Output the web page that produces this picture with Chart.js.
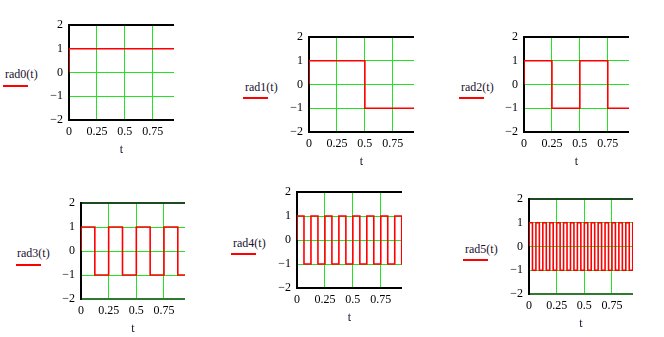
<!DOCTYPE html>
<html lang="en">
<head>
  <meta charset="UTF-8" />
  <title>Rademacher functions</title>
  <script src="https://cdn.jsdelivr.net/npm/chart.js@4.4.0/dist/chart.umd.min.js"></script>
  <style>
    * { margin: 0; padding: 0; box-sizing: border-box; }
    body {
      background: #ffffff;
      width: 664px;
      height: 337px;
      position: relative;
      overflow: hidden;
      font-family: 'Liberation Serif', 'DejaVu Serif', serif;
    }
    canvas { position: absolute; }
    .label {
      position: absolute;
      font-size: 12px;
      line-height: 14px;
      color: #1a1030;
      white-space: nowrap;
    }
    .swatch {
      position: absolute;
      width: 25px;
      height: 2px;
      background: #ff0000;
    }
  </style>
</head>
<body>
  <script>
    // ---- data ----
    const xTicks = [0, 0.25, 0.5, 0.75];
    const yTicks = [-2, -1, 0, 1, 2];
    const xMax = 0.94;

    // step breakpoints (t) and the level held from each breakpoint onward
    const rad0T = [0, 0, 0.94];
    const rad0V = [0, 1, 1];

    const rad1T = [0, 0, 0.5, 0.94];
    const rad1V = [0, 1, -1, -1];

    const rad2T = [0, 0, 0.25, 0.5, 0.75, 0.94];
    const rad2V = [0, 1, -1, 1, -1, -1];

    const rad3T = [0, 0, 0.125, 0.25, 0.375, 0.5, 0.625, 0.75, 0.875, 0.94];
    const rad3V = [0, 1, -1, 1, -1, 1, -1, 1, -1, -1];

    const rad4T = [0, 0, 0.0625, 0.125, 0.1875, 0.25, 0.3125, 0.375, 0.4375, 0.5,
                   0.5625, 0.625, 0.6875, 0.75, 0.8125, 0.875, 0.9375, 0.94];
    const rad4V = [0, 1, -1, 1, -1, 1, -1, 1, -1, 1, -1, 1, -1, 1, -1, 1, -1, -1];

    const rad5T = [0, 0, 0.03125, 0.0625, 0.09375, 0.125, 0.15625, 0.1875, 0.21875, 0.25,
                   0.28125, 0.3125, 0.34375, 0.375, 0.40625, 0.4375, 0.46875, 0.5,
                   0.53125, 0.5625, 0.59375, 0.625, 0.65625, 0.6875, 0.71875, 0.75,
                   0.78125, 0.8125, 0.84375, 0.875, 0.90625, 0.9375, 0.94];
    const rad5V = [0, 1, -1, 1, -1, 1, -1, 1, -1, 1, -1, 1, -1, 1, -1, 1, -1,
                   1, -1, 1, -1, 1, -1, 1, -1, 1, -1, 1, -1, 1, -1, 1, 1];

    // ---- layout ----
    // PAD_T must exceed the y scale's own top padding (half label + tick padding)
    const Y_W = 28, X_H = 40, PAD_T = 15, PAD_R = 4;
    const FONT = 'Liberation Serif';
    const GRID = '#22e222';

    const panels = [
      { name: 'rad0(t)', t: rad0T, v: rad0V, left: 69,  right: 174, top: 25,  bottom: 120, frame: '#000000', frameB: '#000000', tx: 5,   ty: 67,  sx: 3,   sy: 85 },
      { name: 'rad1(t)', t: rad1T, v: rad1V, left: 309, right: 414, top: 37,  bottom: 132, frame: '#000000', frameB: '#000000', tx: 245, ty: 80,  sx: 243, sy: 97 },
      { name: 'rad2(t)', t: rad2T, v: rad2V, left: 524, right: 629, top: 37,  bottom: 132, frame: '#000000', frameB: '#000000', tx: 461, ty: 80,  sx: 459, sy: 97 },
      { name: 'rad3(t)', t: rad3T, v: rad3V, left: 81,  right: 185, top: 203, bottom: 299, frame: '#1f4a1f', frameB: '#2f7a2f', tx: 17,  ty: 246, sx: 16,  sy: 264 },
      { name: 'rad4(t)', t: rad4T, v: rad4V, left: 297, right: 402, top: 192, bottom: 288, frame: '#000000', frameB: '#000000', tx: 233, ty: 236, sx: 231, sy: 253 },
      { name: 'rad5(t)', t: rad5T, v: rad5V, left: 529, right: 633, top: 199, bottom: 294, frame: '#1f4a1f', frameB: '#2f7a2f', tx: 465, ty: 242, sx: 463, sy: 259 }
    ];

    const fmt = v => (v < 0 ? '\u2212' + Math.abs(v) : String(v));
    const clear = 'rgba(0,0,0,0)';

    function makeChart(p) {
      const canvas = document.createElement('canvas');
      canvas.width = Y_W + (p.right - p.left) + PAD_R;
      canvas.height = PAD_T + (p.bottom - p.top) + X_H;
      canvas.style.left = (p.left - Y_W) + 'px';
      canvas.style.top = (p.top - PAD_T) + 'px';
      document.body.appendChild(canvas);

      // legend text + red line
      const lab = document.createElement('div');
      lab.className = 'label';
      lab.textContent = p.name;
      lab.style.left = p.tx + 'px';
      lab.style.top = p.ty + 'px';
      document.body.appendChild(lab);
      const sw = document.createElement('div');
      sw.className = 'swatch';
      sw.style.left = p.sx + 'px';
      sw.style.top = p.sy + 'px';
      document.body.appendChild(sw);

      // top, bottom and left frame lines
      const frame = {
        id: 'frame',
        beforeDatasetsDraw(chart) {
          const { ctx, chartArea: a } = chart;
          ctx.save();
          ctx.lineWidth = 2;
          ctx.strokeStyle = p.frame;
          ctx.beginPath();
          ctx.moveTo(a.left, a.top);
          ctx.lineTo(a.right, a.top);
          ctx.stroke();
          ctx.strokeStyle = p.frameB;
          ctx.beginPath();
          ctx.moveTo(a.left, a.bottom);
          ctx.lineTo(a.right, a.bottom);
          ctx.stroke();
          ctx.strokeStyle = '#000000';
          ctx.beginPath();
          ctx.moveTo(a.left, a.top - 1);
          ctx.lineTo(a.left, a.bottom + 1);
          ctx.stroke();
          ctx.restore();
        }
      };

      new Chart(canvas, {
        type: 'line',
        data: {
          datasets: [{
            data: p.t.map((x, i) => ({ x: x, y: p.v[i] })),
            borderColor: '#ff0000',
            borderWidth: 1.6,
            pointRadius: 0,
            stepped: 'before',
            fill: false
          }]
        },
        options: {
          responsive: false,
          animation: false,
          devicePixelRatio: 1,
          layout: { padding: { top: PAD_T, right: PAD_R, left: 0, bottom: 0 } },
          plugins: { legend: { display: false }, tooltip: { enabled: false } },
          scales: {
            x: {
              type: 'linear',
              min: 0,
              max: xMax,
              afterBuildTicks: s => { s.ticks = xTicks.map(v => ({ value: v })); },
              afterFit: s => { s.height = X_H; },
              border: { display: false },
              grid: {
                drawTicks: false,
                lineWidth: 1,
                color: c => (c.tick && c.tick.value === 0 ? clear : GRID)
              },
              ticks: {
                padding: 5,
                color: '#000000',
                maxRotation: 0,
                autoSkip: false,
                font: { family: FONT, size: 12 },
                callback: v => fmt(v)
              },
              title: {
                display: true,
                text: 't',
                color: '#1a1030',
                font: { family: FONT, size: 12, lineHeight: 1.2 },
                padding: { top: 0, bottom: 3 }
              }
            },
            y: {
              type: 'linear',
              min: -2,
              max: 2,
              afterBuildTicks: s => { s.ticks = yTicks.map(v => ({ value: v })); },
              afterFit: s => { s.width = Y_W; },
              border: { display: false },
              grid: {
                drawTicks: false,
                lineWidth: 1,
                color: c => (c.tick && Math.abs(c.tick.value) === 2 ? clear : GRID)
              },
              ticks: {
                padding: 6,
                color: '#000000',
                font: { family: FONT, size: 12 },
                callback: v => fmt(v)
              }
            }
          }
        },
        plugins: [frame]
      });
    }

    panels.forEach(makeChart);
  </script>
</body>
</html>
